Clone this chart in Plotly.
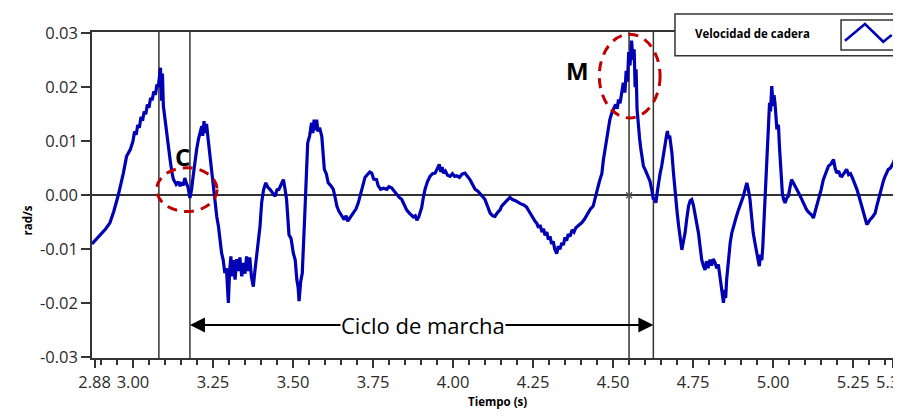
import plotly.graph_objects as go

# ---- data ----
time_s = [2.872, 2.885, 2.900, 2.915, 2.928, 2.940, 2.954, 2.962, 2.970, 2.980, 2.992,
          3.000, 3.005, 3.010, 3.015, 3.020, 3.025, 3.030, 3.035, 3.040, 3.045, 3.050, 3.055,
          3.060, 3.065, 3.070, 3.075, 3.079, 3.083, 3.086, 3.089, 3.092, 3.095, 3.100, 3.105,
          3.111, 3.116, 3.121, 3.126, 3.135, 3.142, 3.147, 3.152, 3.157, 3.162, 3.167, 3.172,
          3.178, 3.183, 3.188, 3.193, 3.199, 3.205, 3.210, 3.215, 3.218, 3.222, 3.226, 3.230,
          3.235, 3.240, 3.246, 3.251, 3.256, 3.262, 3.267, 3.272, 3.277, 3.282, 3.287, 3.292,
          3.296, 3.298, 3.302, 3.306, 3.310, 3.314, 3.319, 3.324, 3.329, 3.334, 3.340, 3.345,
          3.350, 3.355, 3.360, 3.365, 3.370, 3.376, 3.381, 3.387, 3.392, 3.397, 3.402, 3.408,
          3.415, 3.421, 3.428, 3.436, 3.444, 3.450, 3.456, 3.463, 3.470, 3.475, 3.480, 3.4875,
          3.494, 3.501, 3.507, 3.512, 3.516, 3.519, 3.524, 3.529, 3.533, 3.5375, 3.542, 3.546,
          3.552, 3.558, 3.562, 3.566, 3.570, 3.574, 3.578, 3.583, 3.590, 3.594, 3.598, 3.604,
          3.610, 3.618, 3.626, 3.632, 3.637, 3.644, 3.652, 3.660, 3.666, 3.671, 3.680, 3.689,
          3.697, 3.704, 3.710, 3.715, 3.720, 3.725, 3.732, 3.740, 3.746, 3.752, 3.761, 3.766,
          3.774, 3.783, 3.793, 3.800, 3.808, 3.815, 3.824, 3.832, 3.840, 3.847, 3.855, 3.862,
          3.870, 3.876, 3.882, 3.887, 3.893, 3.898, 3.902, 3.907, 3.9125, 3.920, 3.928, 3.936,
          3.944, 3.950, 3.957, 3.962, 3.966, 3.970, 3.976, 3.983, 3.991, 3.998, 4.005, 4.012,
          4.020, 4.028, 4.0375, 4.045, 4.053, 4.061, 4.069, 4.077, 4.084, 4.092, 4.100, 4.108,
          4.116, 4.124, 4.131, 4.139, 4.147, 4.152, 4.160, 4.168, 4.178, 4.186, 4.195, 4.204,
          4.212, 4.221, 4.230, 4.238, 4.246, 4.255, 4.262, 4.267, 4.272, 4.278, 4.283, 4.2875,
          4.293, 4.298, 4.303, 4.308, 4.313, 4.318, 4.324, 4.329, 4.334, 4.340, 4.345, 4.350,
          4.355, 4.360, 4.366, 4.372, 4.378, 4.384, 4.392, 4.402, 4.410, 4.418, 4.423, 4.430,
          4.438, 4.444, 4.449, 4.454, 4.459, 4.465, 4.470, 4.475, 4.480, 4.485, 4.490, 4.496,
          4.502, 4.508, 4.513, 4.517, 4.522, 4.527, 4.532, 4.537, 4.541, 4.545, 4.549, 4.553,
          4.558, 4.562, 4.566, 4.569, 4.572, 4.575, 4.579, 4.583, 4.587, 4.591, 4.595, 4.602,
          4.610, 4.616, 4.621, 4.626, 4.630, 4.634, 4.638, 4.642, 4.647, 4.652, 4.657, 4.6625,
          4.667, 4.670, 4.673, 4.677, 4.684, 4.689, 4.694, 4.700, 4.705, 4.710, 4.715, 4.720,
          4.725, 4.730, 4.736, 4.741, 4.746, 4.751, 4.756, 4.762, 4.767, 4.772, 4.777, 4.782,
          4.7875, 4.792, 4.797, 4.803, 4.808, 4.813, 4.819, 4.824, 4.829, 4.834, 4.838, 4.842,
          4.845, 4.849, 4.852, 4.855, 4.860, 4.866, 4.871, 4.876, 4.884, 4.892, 4.900, 4.907,
          4.913, 4.918, 4.923, 4.928, 4.933, 4.938, 4.944, 4.949, 4.953, 4.957, 4.961, 4.965,
          4.968, 4.972, 4.975, 4.978, 4.982, 4.985, 4.989, 4.992, 4.996, 5.000, 5.003, 5.006,
          5.009, 5.012, 5.015, 5.017, 5.020, 5.022, 5.026, 5.029, 5.033, 5.0375, 5.043, 5.048,
          5.053, 5.058, 5.064, 5.069, 5.074, 5.082, 5.090, 5.097, 5.105, 5.112, 5.120, 5.126,
          5.132, 5.137, 5.142, 5.150, 5.157, 5.165, 5.173, 5.181, 5.189, 5.194, 5.199, 5.205,
          5.210, 5.215, 5.222, 5.230, 5.236, 5.242, 5.248, 5.255, 5.262, 5.270, 5.277, 5.285,
          5.293, 5.298, 5.303, 5.311, 5.319, 5.324, 5.329, 5.335, 5.340, 5.345, 5.350, 5.355,
          5.360, 5.366, 5.371, 5.376, 5.379]

hip_velocity = [-0.0090, -0.0082, -0.0072, -0.0062, -0.0051, -0.0030, 0.0000, 0.0020, 0.0041, 0.0072, 0.0085,
                0.0100, 0.0118, 0.0112, 0.0130, 0.0125, 0.0145, 0.0138, 0.0155, 0.0150, 0.0168, 0.0162, 0.0180,
                0.0176, 0.0192, 0.0186, 0.0205, 0.0200, 0.0220, 0.0236, 0.0175, 0.0225, 0.0165, 0.0140, 0.0109,
                0.0085, 0.0066, 0.0045, 0.0030, 0.0020, 0.0025, 0.0017, 0.0024, 0.0018, 0.0032, 0.0022, 0.0015,
                -0.0005, 0.0010, 0.0035, 0.0060, 0.0085, 0.0105, 0.0118, 0.0128, 0.0110, 0.0137, 0.0115, 0.0132,
                0.0103, 0.0075, 0.0041, 0.0010, -0.0020, -0.0040, -0.0057, -0.0085, -0.0107, -0.0120, -0.0144, -0.0135,
                -0.0175, -0.0199, -0.0140, -0.0113, -0.0150, -0.0120, -0.0156, -0.0118, -0.0140, -0.0115, -0.0150, -0.0125,
                -0.0145, -0.0113, -0.0140, -0.0115, -0.0150, -0.0169, -0.0140, -0.0113, -0.0090, -0.0057, -0.0014, 0.0010,
                0.0023, 0.0015, 0.0011, 0.0005, -0.0002, 0.0010, 0.0011, 0.0020, 0.0029, 0.0012, -0.0008, -0.0073,
                -0.0080, -0.0107, -0.0120, -0.0156, -0.0170, -0.0196, -0.0160, -0.0144, -0.0100, -0.0027, 0.0040, 0.0097,
                0.0110, 0.0134, 0.0115, 0.0140, 0.0120, 0.0140, 0.0118, 0.0125, 0.0109, 0.0080, 0.0048, 0.0040,
                0.0023, 0.0018, 0.0011, -0.0005, -0.0020, -0.0030, -0.0039, -0.0045, -0.0038, -0.0048, -0.0040, -0.0033,
                -0.0025, -0.0014, 0.0000, 0.0011, 0.0025, 0.0033, 0.0038, 0.0043, 0.0041, 0.0030, 0.0029, 0.0018,
                0.0011, 0.0013, 0.0011, 0.0016, 0.0014, 0.0008, 0.0001, -0.0004, -0.0008, -0.0018, -0.0027, -0.0032,
                -0.0036, -0.0040, -0.0038, -0.0046, -0.0040, -0.0030, -0.0023, -0.0005, 0.0011, 0.0025, 0.0035, 0.0040,
                0.0041, 0.0048, 0.0057, 0.0043, 0.0052, 0.0041, 0.0045, 0.0037, 0.0035, 0.0040, 0.0035, 0.0036,
                0.0033, 0.0039, 0.0041, 0.0035, 0.0029, 0.0020, 0.0011, 0.0008, 0.0004, -0.0002, -0.0008, -0.0020,
                -0.0033, -0.0038, -0.0039, -0.0032, -0.0027, -0.0020, -0.0014, -0.0010, -0.0004, -0.0008, -0.0010, -0.0014,
                -0.0016, -0.0018, -0.0022, -0.0030, -0.0039, -0.0047, -0.0052, -0.0060, -0.0055, -0.0068, -0.0062, -0.0074,
                -0.0068, -0.0082, -0.0076, -0.0090, -0.0085, -0.0100, -0.0108, -0.0094, -0.0100, -0.0088, -0.0092, -0.0078,
                -0.0084, -0.0072, -0.0076, -0.0064, -0.0068, -0.0060, -0.0056, -0.0051, -0.0045, -0.0036, -0.0030, -0.0025,
                -0.0020, -0.0005, 0.0011, 0.0018, 0.0029, 0.0040, 0.0066, 0.0085, 0.0105, 0.0128, 0.0140, 0.0152,
                0.0160, 0.0168, 0.0160, 0.0177, 0.0170, 0.0195, 0.0208, 0.0190, 0.0230, 0.0210, 0.0265, 0.0240,
                0.0286, 0.0250, 0.0270, 0.0200, 0.0233, 0.0160, 0.0128, 0.0105, 0.0085, 0.0070, 0.0054, 0.0045,
                0.0035, 0.0025, 0.0010, -0.0008, -0.0005, -0.0014, 0.0005, 0.0023, 0.0040, 0.0054, 0.0075, 0.0097,
                0.0110, 0.0119, 0.0105, 0.0110, 0.0078, 0.0040, 0.0004, -0.0030, -0.0057, -0.0080, -0.0101, -0.0085,
                -0.0070, -0.0045, -0.0020, -0.0010, -0.0008, -0.0018, -0.0033, -0.0050, -0.0070, -0.0095, -0.0119, -0.0130,
                -0.0138, -0.0122, -0.0135, -0.0119, -0.0130, -0.0118, -0.0125, -0.0135, -0.0128, -0.0150, -0.0165, -0.0180,
                -0.0199, -0.0175, -0.0190, -0.0156, -0.0120, -0.0088, -0.0070, -0.0057, -0.0042, -0.0027, -0.0015, -0.0002,
                0.0012, 0.0023, 0.0010, -0.0008, -0.0040, -0.0070, -0.0090, -0.0107, -0.0120, -0.0131, -0.0110, -0.0120,
                -0.0094, -0.0040, 0.0004, 0.0035, 0.0066, 0.0120, 0.0171, 0.0155, 0.0202, 0.0165, 0.0185, 0.0171,
                0.0150, 0.0122, 0.0130, 0.0128, 0.0090, 0.0066, 0.0030, 0.0004, -0.0008, -0.0014, -0.0005, -0.0002,
                0.0015, 0.0029, 0.0022, 0.0015, 0.0011, 0.0002, -0.0008, -0.0015, -0.0027, -0.0032, -0.0036, -0.0042,
                -0.0030, -0.0020, -0.0008, 0.0010, 0.0029, 0.0042, 0.0054, 0.0058, 0.0066, 0.0050, 0.0041, 0.0045,
                0.0036, 0.0035, 0.0042, 0.0048, 0.0038, 0.0040, 0.0032, 0.0022, 0.0011, -0.0005, -0.0020, -0.0038,
                -0.0054, -0.0050, -0.0045, -0.0040, -0.0033, -0.0020, -0.0008, 0.0005, 0.0017, 0.0027, 0.0035, 0.0042,
                0.0048, 0.0050, 0.0054, 0.0060, 0.0066]

x_tick_vals = [2.88, 3.00, 3.25, 3.50, 3.75, 4.00, 4.25, 4.50, 4.75, 5.00, 5.25, 5.375]
x_tick_text = ["2.88", "3.00", "3.25", "3.50", "3.75", "4.00", "4.25", "4.50", "4.75", "5.00", "5.25", ""]
x_end_label = "5.3"        # the axis end value, shown clipped at the image edge
y_tick_vals = [-0.03, -0.02, -0.01, 0.00, 0.01, 0.02, 0.03]
y_tick_text = ["-0.03", "-0.02", "-0.01", "0.00", "0.01", "0.02", "0.03"]

cursor_times = [3.081, 3.178, 4.550, 4.626]   # vertical cursor lines
cycle_start, cycle_end, cycle_level = 3.178, 4.626, -0.024
cycle_label = "Ciclo de marcha"
series_name = "Velocidad de cadera"

minor_vals = [round(2.90 + 0.05 * i, 2) for i in range(0, 50)]
minor_vals = [v for v in minor_vals if v < 5.38 and all(abs(v - m) > 1e-6 for m in x_tick_vals)]

AX = "#333333"
TXT = "#2b2b2b"
BLUE = "#0000b4"
RED = "#c00000"

fig = go.Figure()
fig.add_trace(go.Scatter(x=time_s, y=hip_velocity, mode="lines", name=series_name,
                         line=dict(color=BLUE, width=3.2), showlegend=False))
fig.add_trace(go.Scatter(x=[cursor_times[2]], y=[0], mode="markers", showlegend=False,
                         marker=dict(symbol="x-thin", size=6, line=dict(color="#555555", width=1.2))))

shapes = []
for t in cursor_times:
    shapes.append(dict(type="line", xref="x", yref="paper", x0=t, x1=t, y0=0, y1=1,
                       line=dict(color=AX, width=1.5), layer="below"))
# dashed ellipses
shapes.append(dict(type="circle", xref="x", yref="y", x0=3.074, x1=3.263, y0=-0.0030, y1=0.0051,
                   line=dict(color=RED, width=3, dash="10px,7px"), layer="above"))
shapes.append(dict(type="circle", xref="x", yref="y", x0=4.457, x1=4.647, y0=0.0143, y1=0.0298,
                   line=dict(color=RED, width=3, dash="10px,7px"), layer="above"))
# legend box
shapes.append(dict(type="rect", xref="paper", yref="paper", x0=0.726, x1=1.0, y0=0.9273, y1=1.0552,
                   line=dict(color=AX, width=1.5), fillcolor="white", layer="above"))
shapes.append(dict(type="rect", xref="paper", yref="paper", x0=0.9328, x1=0.9984, y0=0.9448, y1=1.0368,
                   line=dict(color=AX, width=1.5), fillcolor="white", layer="above"))
shapes.append(dict(type="path", xref="paper", yref="paper",
                   path="M0.9377,0.9733 L0.9626,1.0245 L0.9854,0.9702 L0.9959,0.9908",
                   line=dict(color=BLUE, width=2.5), layer="above"))

annotations = []
mid = 3.905
for tip in (cycle_start, cycle_end):
    annotations.append(dict(x=tip, y=cycle_level, ax=mid, ay=cycle_level, xref="x", yref="y",
                            axref="x", ayref="y", text="", showarrow=True, arrowhead=2,
                            arrowsize=1.5, arrowwidth=2, arrowcolor="black", standoff=0))
annotations.append(dict(x=mid, y=cycle_level, xref="x", yref="y", text=cycle_label, showarrow=False,
                        bgcolor="white", borderpad=0, font=dict(family="Open Sans", size=22, color="black")))
annotations.append(dict(x=3.155, y=0.0072, xref="x", yref="y", text="<b>C</b>", showarrow=False,
                        font=dict(family="Open Sans", size=24, color="black")))
annotations.append(dict(x=4.389, y=0.0231, xref="x", yref="y", text="<b>M</b>", showarrow=False,
                        font=dict(family="Open Sans", size=24, color="black")))
annotations.append(dict(x=0.748, y=0.9969, xref="paper", yref="paper", text="<b>" + series_name + "</b>",
                        showarrow=False, xanchor="left", yanchor="middle",
                        font=dict(family="Open Sans", size=11.5, color="black")))
annotations.append(dict(x=-0.0922, y=0.4233, xref="paper", yref="paper", text="<b>rad/s</b>",
                        showarrow=False, textangle=-90,
                        font=dict(family="Open Sans", size=11.5, color="black")))
annotations.append(dict(x=0.5044, y=-0.1617, xref="paper", yref="paper", text="<b>Tiempo (s)</b>",
                        showarrow=False, font=dict(family="Open Sans", size=11.5, color="black")))
annotations.append(dict(x=5.356, y=-0.0736, xref="x", yref="paper", text=x_end_label,
                        showarrow=False, yanchor="middle",
                        font=dict(family="Open Sans", size=16.5, color=TXT)))

# the page body adds an 8px offset, so the figure is 8px smaller and margins shifted
fig.update_layout(
    width=893, height=411,
    margin=dict(l=84, r=6, t=24, b=61, autoexpand=False),
    paper_bgcolor="white", plot_bgcolor="white",
    shapes=shapes, annotations=annotations,
    font=dict(family="Open Sans", color=TXT),
    xaxis=dict(range=[2.872, 5.381], tickmode="array", tickvals=x_tick_vals, ticktext=x_tick_text,
               ticks="outside", ticklen=8, tickwidth=1.5, tickcolor=AX,
               showline=True, linecolor=AX, linewidth=1.5, mirror=True,
               showgrid=False, zeroline=False, tickfont=dict(size=16.5, color=TXT),
               minor=dict(tickvals=minor_vals, ticks="outside", ticklen=5, tickwidth=1.5, tickcolor=AX,
                          showgrid=False)),
    yaxis=dict(range=[-0.0301, 0.0302], tickmode="array", tickvals=y_tick_vals, ticktext=y_tick_text,
               ticks="outside", ticklen=9, tickwidth=1.5, tickcolor=AX,
               showline=True, linecolor=AX, linewidth=1.5, mirror=True,
               showgrid=False, zeroline=True, zerolinecolor=AX, zerolinewidth=1.5,
               tickfont=dict(size=16.5, color=TXT)),
)

fig.write_html("out.html")
